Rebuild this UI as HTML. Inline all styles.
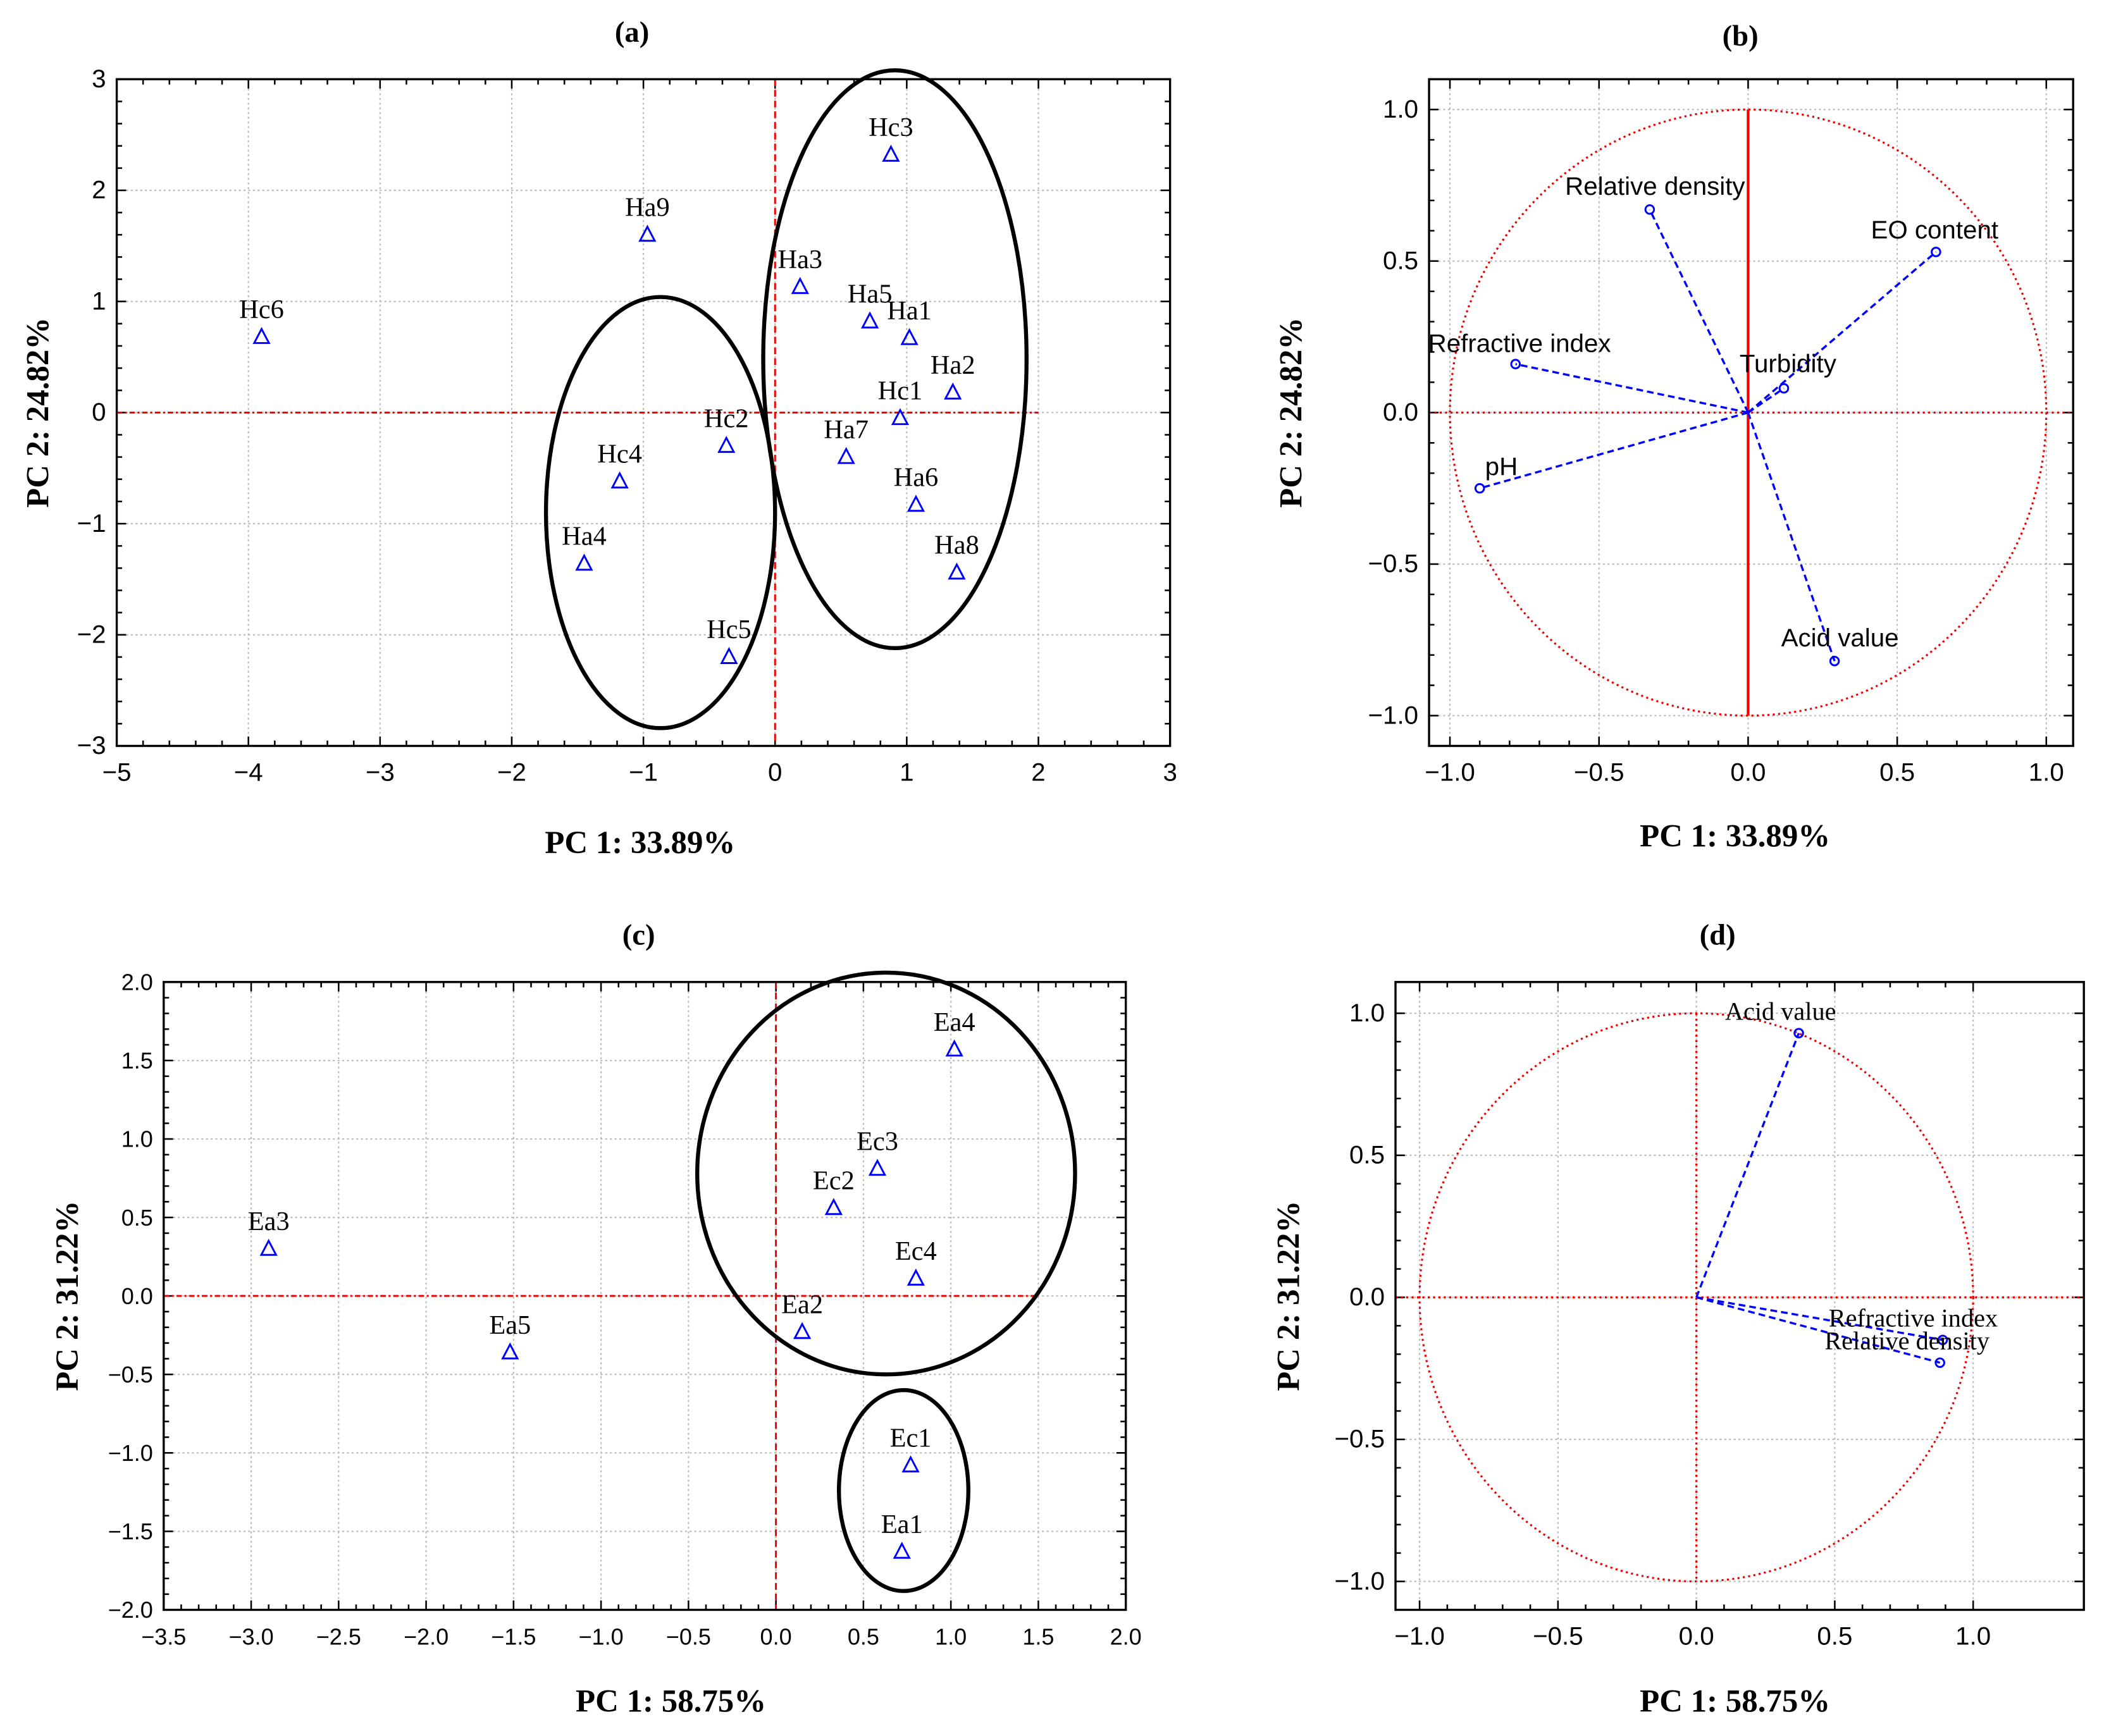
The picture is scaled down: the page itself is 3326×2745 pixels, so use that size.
<!DOCTYPE html>
<html><head><meta charset="utf-8"><style>
html,body{margin:0;padding:0;background:#fff}
svg{display:block}
.serif{font-family:"Liberation Serif",serif}
.sans{font-family:"Liberation Sans",sans-serif}
</style></head><body>
<svg id="fig" xmlns="http://www.w3.org/2000/svg" width="3326" height="2745" viewBox="0 0 1568 1294"></svg>
<script>
// Panel (a) score plot data
const aLabels = ["Hc6","Ha9","Hc3","Ha3","Ha5","Ha1","Ha2","Hc1","Hc2","Ha7","Hc4","Ha6","Ha4","Ha8","Hc5"];
const aX = [-3.9,-0.97,0.88,0.19,0.72,1.02,1.35,0.95,-0.37,0.54,-1.18,1.07,-1.45,1.38,-0.35];
const aY = [0.68,1.6,2.32,1.13,0.82,0.67,0.18,-0.05,-0.3,-0.4,-0.62,-0.83,-1.36,-1.44,-2.2];
const aXTicks = [-5,-4,-3,-2,-1,0,1,2,3];
const aYTicks = [-3,-2,-1,0,1,2,3];
// Panel (b) loadings
const bLabels = ["Relative density","EO content","Refractive index","Turbidity","pH","Acid value"];
const bX = [-0.33,0.63,-0.78,0.12,-0.9,0.29];
const bY = [0.67,0.53,0.16,0.08,-0.25,-0.82];
const bTicks = [-1.0,-0.5,0.0,0.5,1.0];
// Panel (c) score plot
const cLabels = ["Ea3","Ea5","Ea4","Ec3","Ec2","Ec4","Ea2","Ec1","Ea1"];
const cX = [-2.9,-1.52,1.02,0.58,0.33,0.8,0.15,0.77,0.72];
const cY = [0.3,-0.36,1.57,0.81,0.56,0.11,-0.23,-1.08,-1.63];
const cXTicks = [-3.5,-3.0,-2.5,-2.0,-1.5,-1.0,-0.5,0.0,0.5,1.0,1.5,2.0];
const cYTicks = [-2.0,-1.5,-1.0,-0.5,0.0,0.5,1.0,1.5,2.0];
// Panel (d) loadings
const dLabels = ["Acid value","Refractive index","Relative density"];
const dX = [0.37,0.89,0.88];
const dY = [0.93,-0.15,-0.23];
const dTicks = [-1.0,-0.5,0.0,0.5,1.0];

const NS="http://www.w3.org/2000/svg";
const svg=document.getElementById('fig');
function el(tag,attrs,parent,text){const e=document.createElementNS(NS,tag);for(const k in attrs)e.setAttribute(k,attrs[k]);if(text!==undefined)e.textContent=text;(parent||svg).appendChild(e);return e;}
function fmt(v,dec){let s=dec?v.toFixed(1):String(v);return s.replace('-','\u2212');}

function panel(o){
  const g=el('g',{});
  
  
  const sx=v=>o.x0+(v-o.xmin)/(o.xmax-o.xmin)*(o.x1-o.x0);
  const sy=v=>o.y1-(v-o.ymin)/(o.ymax-o.ymin)*(o.y1-o.y0);
  o.xt.forEach(t=>{const X=sx(t);if(X>o.x0+1&&X<o.x1-1){const l=el('line',{x1:X,x2:X,y1:o.y0,y2:o.y1,stroke:'#bbb','stroke-width':1,'stroke-dasharray':'1.5,2'},g);}});
  o.yt.forEach(t=>{const Y=sy(t);if(Y>o.y0+1&&Y<o.y1-1){const l=el('line',{x1:o.x0,x2:o.x1,y1:Y,y2:Y,stroke:'#bbb','stroke-width':1,'stroke-dasharray':'1.5,2'},g);}});
  const xs=(o.xt[1]-o.xt[0])/5, ys=(o.yt[1]-o.yt[0])/5;
  for(let v=o.xt[0];v<=o.xt[o.xt.length-1]+1e-6;v+=xs){const X=sx(v);if(X<o.x0-0.5||X>o.x1+0.5)continue;const big=Math.abs((v-o.xt[0])/(o.xt[1]-o.xt[0])-Math.round((v-o.xt[0])/(o.xt[1]-o.xt[0])))<1e-3;const L=big?7:4;
    el('line',{x1:X,x2:X,y1:o.y1,y2:o.y1-L,stroke:'#000','stroke-width':1.2},g);el('line',{x1:X,x2:X,y1:o.y0,y2:o.y0+L,stroke:'#000','stroke-width':1.2},g);}
  for(let v=o.yt[0];v<=o.yt[o.yt.length-1]+1e-6;v+=ys){const Y=sy(v);if(Y<o.y0-0.5||Y>o.y1+0.5)continue;const big=Math.abs((v-o.yt[0])/(o.yt[1]-o.yt[0])-Math.round((v-o.yt[0])/(o.yt[1]-o.yt[0])))<1e-3;const L=big?7:4;
    el('line',{x1:o.x0,x2:o.x0+L,y1:Y,y2:Y,stroke:'#000','stroke-width':1.2},g);el('line',{x1:o.x1,x2:o.x1-L,y1:Y,y2:Y,stroke:'#000','stroke-width':1.2},g);}
  o.xt.forEach(t=>{const tx=el('text',{x:sx(t),y:o.y1+26,'text-anchor':'middle','font-size':o.tf,class:o.tfont,fill:'#000'},g,fmt(t,o.dec));});
  o.yt.forEach(t=>{const tx=el('text',{x:o.x0-8,y:sy(t)+6,'text-anchor':'end','font-size':o.tf,class:o.tfont,fill:'#000'},g,fmt(t,o.dec));});
  const tt=el('text',{x:o.titleX,y:o.titleY,'text-anchor':'middle','font-size':22,'font-weight':'bold',class:'serif'},g,o.title);
  
  const xl=el('text',{x:o.xlX,y:o.xlY,'text-anchor':'middle','font-size':24,'font-weight':'bold',class:'serif'},g,o.xlab);
  
  const yl=el('text',{x:0,y:0,'text-anchor':'middle','font-size':24,'font-weight':'bold',class:'serif',transform:`translate(${o.ylX},${(o.y0+o.y1)/2}) rotate(-90)`},g,o.ylab);
  
  return {g,sx,sy};
}
function frame(o,g){const r=el('rect',{x:o.x0,y:o.y0,width:o.x1-o.x0,height:o.y1-o.y0,fill:'none',stroke:'#000','stroke-width':1.6},g);}

function scorePanel(o,labels,xs,ys,ellipses){
  const p=panel(o);
  const g=p.g;
  el('line',{x1:p.sx(0),x2:p.sx(0),y1:o.y0,y2:o.y1,stroke:'#e00','stroke-width':1.4,'stroke-dasharray':'5,3'},g);
  el('line',{x1:o.x0,x2:o.zx1?p.sx(o.zx1):o.x1,y1:p.sy(0),y2:p.sy(0),stroke:'#e00','stroke-width':1.4,'stroke-dasharray':'4,2,1.5,2'},g);
  ellipses.forEach(e=>{const c=el('ellipse',{cx:p.sx(e[0]),cy:p.sy(e[1]),rx:Math.abs(p.sx(e[2])-p.sx(0)),ry:Math.abs(p.sy(e[3])-p.sy(0)),fill:'none',stroke:'#000','stroke-width':3},g);});
  labels.forEach((lb,i)=>{const X=p.sx(xs[i]),Y=p.sy(ys[i]);
    const t=el('polygon',{points:`${X},${Y-6} ${X-5.5},${Y+4.5} ${X+5.5},${Y+4.5}`,fill:'none',stroke:'#00f','stroke-width':1.4},g);
    
    const tx=el('text',{x:X,y:Y-14,'text-anchor':'middle','font-size':o.pf,class:'serif',fill:'#000'},g,lb);
    });
  frame(o,g);
}
function loadPanel(o,labels,xs,ys,offs,solidV){
  const p=panel(o);const g=p.g;
  const ox=p.sx(0),oy=p.sy(0);
  const r=el('ellipse',{cx:ox,cy:oy,rx:p.sx(1)-ox,ry:oy-p.sy(1),fill:'none',stroke:'#e00','stroke-width':1.5,'stroke-dasharray':'1.5,2.5'},g);
  
  el('line',{x1:o.x0,x2:o.x1,y1:oy,y2:oy,stroke:'#e00','stroke-width':1.5,'stroke-dasharray':'1.5,2.5'},g);
  if(solidV) el('line',{x1:ox,x2:ox,y1:p.sy(1),y2:p.sy(-1),stroke:'#e00','stroke-width':2},g);
  else el('line',{x1:ox,x2:ox,y1:p.sy(1),y2:p.sy(-1),stroke:'#e00','stroke-width':1.5,'stroke-dasharray':'1.5,2.5'},g);
  labels.forEach((lb,i)=>{const X=p.sx(xs[i]),Y=p.sy(ys[i]);
    const l=el('line',{x1:ox,y1:oy,x2:X,y2:Y,stroke:'#00f','stroke-width':1.6,'stroke-dasharray':'5,3'},g);
    
    const c=el('circle',{cx:X,cy:Y,r:3.2,fill:'none',stroke:'#00f','stroke-width':1.4},g);
    
    const tx=el('text',{x:X+offs[i][0],y:Y+offs[i][1],'text-anchor':offs[i][2],'font-size':o.lf,class:o.lfont,fill:'#000'},g,lb);
    });
  frame(o,g);
}

scorePanel({name:'panel-a',x0:87,x1:872,y0:59,y1:556,xmin:-5,xmax:3,ymin:-3,ymax:3,xt:aXTicks,yt:aYTicks,dec:false,tf:19,tfont:'sans',pf:20,
  title:'(a)',titleX:471,titleY:31,xlab:'PC 1: 33.89%',xlX:477,xlY:636,ylab:'PC 2: 24.82%',ylX:36,zx1:2},aLabels,aX,aY,
  [[-0.87,-0.9,0.87,1.94],[0.91,0.48,1.0,2.6]]);
loadPanel({name:'panel-b',x0:1065,x1:1545,y0:59,y1:556,xmin:-1.07,xmax:1.09,ymin:-1.1,ymax:1.1,xt:bTicks,yt:bTicks,dec:true,tf:19,tfont:'sans',
  title:'(b)',titleX:1297,titleY:34,xlab:'PC 1: 33.89%',xlX:1293,xlY:631,ylab:'PC 2: 24.82%',ylX:970,lf:19,lfont:'sans'},bLabels,bX,bY,
  [[4,-11,'middle'],[-1,-10,'middle'],[3,-9,'middle'],[3,-12,'middle'],[4,-10,'start'],[4,-11,'middle']],true);
scorePanel({name:'panel-c',x0:122,x1:839,y0:732,y1:1200,xmin:-3.5,xmax:2.0,ymin:-2,ymax:2,xt:cXTicks,yt:cYTicks,dec:true,tf:17,tfont:'sans',pf:20,
  title:'(c)',titleX:476,titleY:704,xlab:'PC 1: 58.75%',xlX:500,xlY:1276,ylab:'PC 2: 31.22%',ylX:58,zx1:1.5},cLabels,cX,cY,
  [[0.63,0.78,1.08,1.28],[0.73,-1.24,0.37,0.64]]);
loadPanel({name:'panel-d',x0:1040,x1:1553,y0:732,y1:1200,xmin:-1.087,xmax:1.4,ymin:-1.1,ymax:1.11,xt:dTicks,yt:dTicks,dec:true,tf:19,tfont:'sans',
  title:'(d)',titleX:1280,titleY:704,xlab:'PC 1: 58.75%',xlX:1293,xlY:1276,ylab:'PC 2: 31.22%',ylX:968,lf:19,lfont:'serif'},dLabels,dX,dY,
  [[-55,-10,'start'],[-85,-10,'start'],[-86,-10,'start']],false);
</script>
</body></html>
